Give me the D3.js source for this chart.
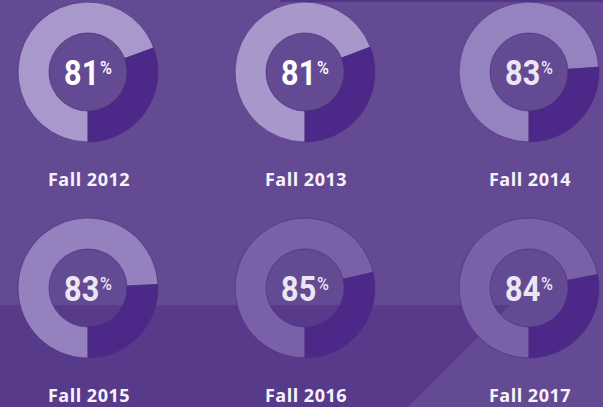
<!DOCTYPE html>
<meta charset="utf-8">
<script src="https://d3js.org/d3.v7.min.js"></script>
<style>
  body { margin: 0; background: #644993; }
</style>
<div id="chart"></div>
<script>

    // data
    const terms = ["Fall 2012", "Fall 2013", "Fall 2014", "Fall 2015", "Fall 2016", "Fall 2017"];
    const rates = [81, 81, 83, 83, 85, 84];
    // share of the ring drawn light (as it is drawn)
    const ringShare = [69.4, 69.2, 73.9, 74.2, 71.4, 71.9];
    const ringColors = ["#a898cc", "#a797cb", "#9583c0", "#9481be", "#7a60a8", "#7a60a7"];

    const width = 603, height = 407;

    const svg = d3.select("#chart")
      .append("svg")
        .attr("width", width)
        .attr("height", height);

    // background shapes
    svg.append("rect")
      .attr("width", width).attr("height", height)
      .attr("fill", "#644993");
    svg.append("path")
      .attr("d", "M0,305 L510,305 L408,407 L0,407 Z")
      .attr("fill", "#583a8b");
    svg.append("rect")
      .attr("x", 280).attr("y", 0).attr("width", width - 280).attr("height", 2)
      .attr("fill", "#52348a");

    // grid of donuts
    const col = d3.scaleOrdinal().domain([0, 1, 2]).range([88, 305, 529]);
    const row = d3.scaleOrdinal().domain([0, 1]).range([72, 288]);

    const pie = d3.pie()
      .sort(null)
      .startAngle(Math.PI)
      .endAngle(3 * Math.PI);

    const arc = d3.arc()
      .innerRadius(39)
      .outerRadius(70);

    const cells = svg.selectAll("g.cell")
      .data(terms.map((t, i) => ({term: t, rate: rates[i], share: ringShare[i], color: ringColors[i], i: i})))
      .join("g")
        .attr("class", "cell")
        .attr("transform", d => `translate(${col(d.i % 3)}, ${row(Math.floor(d.i / 3))})`);

    cells.selectAll("path")
      .data(d => pie([d.share, 100 - d.share]).map((p, k) => ({...p, fill: k === 0 ? d.color : "#4c2888"})))
      .join("path")
        .attr("d", arc)
        .attr("fill", d => d.fill)
        .attr("stroke", "#4a2f7e")
        .attr("stroke-width", 0.7);

    // percentage in the hole (squeezed a bit, the original face is condensed)
    const pct = cells.append("g")
        .attr("transform", "scale(0.85,1)")
      .append("text")
        .attr("x", 0)
        .attr("y", 13)
        .attr("text-anchor", "middle")
        .style("font-family", "Roboto, sans-serif")
        .style("font-weight", "bold")
        .attr("fill", d => d.i < 2 ? "#ffffff" : "#ece6f3");
    pct.append("tspan")
      .style("font-size", "36px")
      .text(d => d.rate);
    pct.append("tspan")
      .style("font-size", "19px")
      .style("font-weight", 500)
      .attr("dx", 1)
      .attr("dy", -11)
      .text("%");

    // term labels
    cells.append("text")
      .attr("x", 1)
      .attr("y", 114)
      .attr("text-anchor", "middle")
      .style("font-family", "'Open Sans', sans-serif")
      .style("font-weight", 700)
      .style("font-size", "18px")
      .style("letter-spacing", "0.5px")
      .attr("fill", "#f6f2fa")
      .text(d => d.term);

</script>
